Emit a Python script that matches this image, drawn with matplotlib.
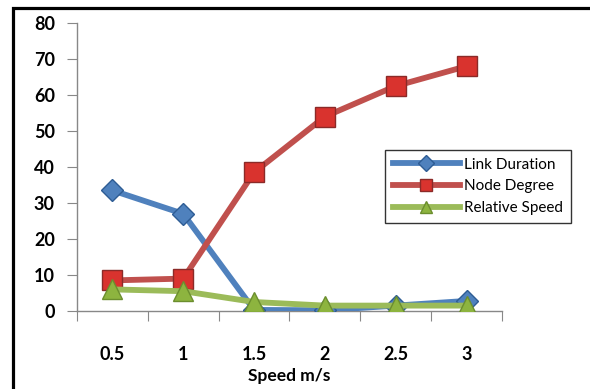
import matplotlib.pyplot as plt
from matplotlib.patches import Rectangle

speeds = ['0.5', '1', '1.5', '2', '2.5', '3']
link_duration = [33.5, 27, 0.3, 0.2, 1.5, 2.8]
node_degree = [8.5, 9, 38.5, 54, 62.5, 68]
relative_speed = [6, 5.5, 2.5, 1.5, 1.5, 1.5]

plt.rcParams['font.family'] = ['Lato', 'DejaVu Sans']

fig = plt.figure(figsize=(5.9, 3.89), dpi=100)
ax = fig.add_axes([77/590, 1 - 311/389, 425/590, 288/389])

x = list(range(len(speeds)))
ax.plot(x, link_duration, color='#4F81BD', lw=4.2, marker='D', ms=11,
        mfc='#4F81BD', mec='#2E5C94', mew=1, label='Link Duration', zorder=3)
ax.plot(x, node_degree, color='#C0504D', lw=4.2, marker='s', ms=14,
        mfc='#D9332E', mec='#8B2A28', mew=1, label='Node Degree', zorder=4)
ax.plot(x, relative_speed, color='#9BBB59', lw=4.2, marker='^', ms=15,
        mfc='#8DB43F', mec='#6B8E2E', mew=1, label='Relative Speed', zorder=5)

ax.set_xlim(-0.5, len(speeds) - 0.5)
ax.set_ylim(0, 80)
ax.set_yticks(range(0, 81, 10))
ax.set_xticks([i - 0.5 for i in range(len(speeds) + 1)], minor=False)
ax.set_xticklabels([])
ax.set_xticks(x, minor=True)
ax.set_xticklabels(speeds, minor=True)
ax.tick_params(axis='x', which='minor', length=0, pad=25, labelsize=13)
ax.tick_params(axis='x', which='major', length=7, color='#888888', direction='out')
ax.tick_params(axis='y', length=7, color='#888888', pad=9, labelsize=13)
for lab in ax.get_xticklabels(minor=True) + ax.get_yticklabels():
    lab.set_fontweight('bold')

for side in ['top', 'right']:
    ax.spines[side].set_visible(False)
for side in ['left', 'bottom']:
    ax.spines[side].set_color('#888888')
    ax.spines[side].set_linewidth(1)

ax.set_xlabel('Speed m/s', fontsize=12.5, fontweight='bold', labelpad=4)

leg = fig.legend(loc='upper left', bbox_to_anchor=(385/590, 1 - 150/389),
                 fontsize=11, handlelength=4.4, frameon=True, fancybox=False,
                 borderpad=0.5, labelspacing=0.5, handletextpad=0.3,
                 borderaxespad=0)
leg.get_frame().set_edgecolor('black')
leg.get_frame().set_linewidth(1)
for h in leg.legend_handles:
    h.set_markersize(8)

fig.patches.append(Rectangle((13/590, -0.1), 1.2, 1 - 8/389 + 0.1,
                             transform=fig.transFigure, fill=False,
                             edgecolor='black', lw=2.3))

fig.savefig('out.png', dpi=100)
